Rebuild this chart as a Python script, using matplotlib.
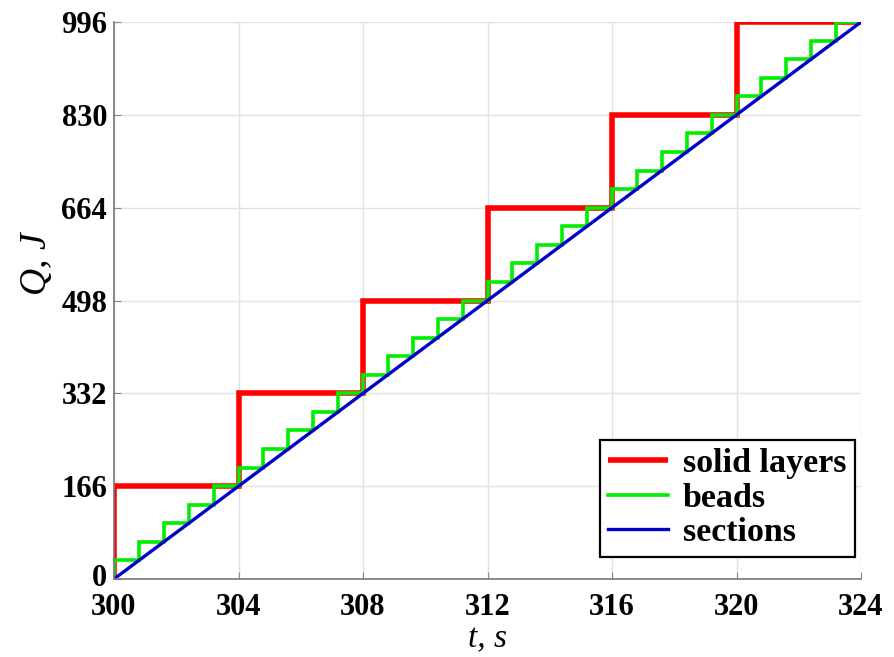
import numpy as np
import matplotlib.pyplot as plt
import matplotlib.transforms as mtransforms

# Data
t_layers = [300, 304, 308, 312, 316, 320, 324]
q_layers = [166, 332, 498, 664, 830, 996, 996]
t_beads = [300.0, 300.8, 301.6, 302.4, 303.2, 304.0, 304.8, 305.6, 306.4, 307.2,
           308.0, 308.8, 309.6, 310.4, 311.2, 312.0, 312.8, 313.6, 314.4, 315.2,
           316.0, 316.8, 317.6, 318.4, 319.2, 320.0, 320.8, 321.6, 322.4, 323.2, 324.0]
q_beads = [33.2, 66.4, 99.6, 132.8, 166.0, 199.2, 232.4, 265.6, 298.8, 332.0,
           365.2, 398.4, 431.6, 464.8, 498.0, 531.2, 564.4, 597.6, 630.8, 664.0,
           697.2, 730.4, 763.6, 796.8, 830.0, 863.2, 896.4, 929.6, 962.8, 996.0, 996.0]
t_sections = [300, 324]
q_sections = [0, 996]
xticks = [300, 304, 308, 312, 316, 320, 324]
yticks = [0, 166, 332, 498, 664, 830, 996]

plt.rcParams['font.family'] = ['Liberation Serif', 'DejaVu Serif']

fig = plt.figure(figsize=(8.94, 6.57), dpi=100)
ax = fig.add_axes([114/894, (657-579)/657, 747/894, 557/657])

ax.plot([t_layers[0]] + t_layers, [0] + q_layers, drawstyle='steps-post',
        color='#ff0000', lw=4.0, label='solid layers', solid_joinstyle='miter',
        solid_capstyle='butt')
ax.plot([t_beads[0]] + t_beads, [0] + q_beads, drawstyle='steps-post',
        color='#00ee00', lw=2.6, label='beads', solid_joinstyle='miter')
ax.plot(t_sections, q_sections, color='#0000cc', lw=2.4, label='sections')

ax.set_xlim(300, 324)
ax.set_ylim(0, 996)
ax.set_xticks(xticks)
ax.set_yticks(yticks)
ax.set_xticklabels([str(v) for v in xticks], fontsize=22, fontweight='bold')
ax.set_yticklabels([str(v) for v in yticks], fontsize=22, fontweight='bold')
ax.tick_params(axis='both', direction='in', length=5, color='#888888')
ax.tick_params(axis='x', pad=10)
ax.tick_params(axis='y', pad=5)
ax.grid(True, color='#e2e2e2', lw=1)
ax.set_axisbelow(True)
for s in ['top', 'right']:
    ax.spines[s].set_visible(False)
for s in ['left', 'bottom']:
    ax.spines[s].set_color('#777777')
    ax.spines[s].set_linewidth(1.2)

# lift the "0" label slightly so it clears "300"
lab0 = ax.get_yticklabels()[0]
lab0.set_transform(lab0.get_transform() + mtransforms.ScaledTranslation(0, 4/100, fig.dpi_scale_trans))

ax.set_xlabel('t, s', fontsize=24, fontstyle='italic', va='center')
ax.xaxis.set_label_coords(0.5, (579-639)/557)
ax.set_ylabel('Q, J', fontsize=27, fontstyle='italic', va='center')
ax.yaxis.set_label_coords((37-114)/747, (579-264)/557)

leg = ax.legend(loc='lower right', bbox_to_anchor=(0.992, 0.04), borderaxespad=0,
                prop={'weight': 'bold', 'size': 24.5}, frameon=True, fancybox=False,
                handlelength=1.75, borderpad=0.25, labelspacing=0.1, handletextpad=0.45)
leg.get_frame().set_edgecolor('black')
leg.get_frame().set_linewidth(1.6)
leg.get_frame().set_alpha(1)

fig.savefig('out.png', dpi=100)
